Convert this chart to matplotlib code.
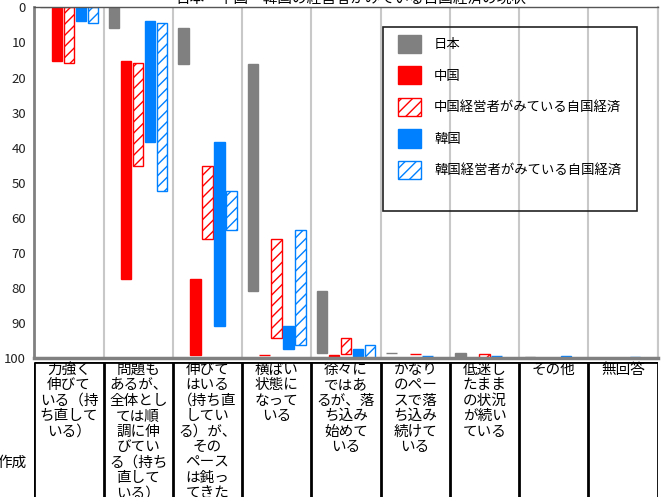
# -*- coding: utf-8 -*-
"""
Floating bar chart: how managers in Japan / China / Korea see their own economy
(cumulative share of answers, 0 at top -> 100 at bottom)
"""

#%% packages
import numpy as np
import matplotlib
matplotlib.use("Agg")
import matplotlib.pyplot as plt
from matplotlib.patches import Rectangle

plt.rcParams['font.family'] = ['Noto Sans CJK JP', 'DejaVu Sans']
plt.rcParams['hatch.linewidth'] = 1.0

# %% data (share of answers in %)
title = "日本・中国・韓国の経営者がみている自国経済の現状"

cat_lines = [
    ["力強く", "伸びて", "いる（持", "ち直して", "いる）"],
    ["問題も", "あるが、", "全体とし", "ては順", "調に伸", "びてい", "る（持ち", "直して", "いる）"],
    ["伸びて", "はいる", "（持ち直", "してい", "る）が、", "その", "ペース", "は鈍っ", "てきた"],
    ["横ばい", "状態に", "なって", "いる"],
    ["徐々に", "ではあ", "るが、落", "ち込み", "始めて", "いる"],
    ["かなり", "のペー", "スで落", "ち込み", "続けて", "いる"],
    ["低迷し", "たまま", "の状況", "が続い", "ている"],
    ["その他"],
    ["無回答"],
]

series_names = ["日本", "中国", "中国経営者がみている自国経済", "韓国", "韓国経営者がみている自国経済"]
japan = [0.0, 5.8, 10.3, 64.8, 17.5, 0.0, 1.2, 0.4, 0.0]
china = [15.2, 62.2, 21.8, 0.0, 0.8, 0.0, 0.0, 0.0, 0.0]
china_mgr = [16.0, 29.1, 21.0, 28.2, 4.4, 0.0, 1.1, 0.2, 0.0]
korea = [3.9, 34.4, 52.4, 6.7, 2.0, 0.0, 0.0, 0.2, 0.4]
korea_mgr = [4.4, 47.9, 11.1, 32.8, 3.8, 0.0, 0.0, 0.0, 0.0]

series_vals = [japan, china, china_mgr, korea, korea_mgr]

# styles
colors = ["#808080", "#FF0000", "#FF0000", "#0080FF", "#0080FF"]
hatched = [False, False, True, False, True]

# %% figure
W, H = 666, 497
fig = plt.figure(figsize=(W / 100, H / 100), dpi=100)

ax_l, ax_r, ax_t, ax_b = 34.3, 657.7, 7.3, 358.3
ax = fig.add_axes([ax_l / W, 1 - ax_b / H, (ax_r - ax_l) / W, (ax_b - ax_t) / H])

x = np.arange(len(cat_lines)) + 0.5
offsets = [-0.346, -0.173, 0.0, 0.173, 0.346]
bw = 0.152

for name, vals, col, hat, off in zip(series_names, series_vals, colors, hatched, offsets):
    vals = np.array(vals)
    start = np.cumsum(vals) - vals
    if hat:
        ax.bar(x + off, vals, bw, bottom=start, facecolor="white", edgecolor=col,
               hatch="///", linewidth=1.0, label=name)
    else:
        ax.bar(x + off, vals, bw, bottom=start, color=col, edgecolor=col,
               linewidth=1.0, label=name)

ax.set_xlim(0, len(cat_lines))
ax.set_ylim(100, 0)
ax.set_yticks(np.arange(0, 101, 10))
ax.tick_params(axis="y", length=0, pad=6, labelsize=9.5, labelcolor="#222222")
ax.set_xticks(np.arange(len(cat_lines) + 1))
ax.tick_params(axis="x", length=0, labelbottom=False)
ax.grid(axis="x", color="#C8C8C8", linewidth=1.5)
ax.set_axisbelow(True)

ax.spines["left"].set_color("#808080")
ax.spines["left"].set_linewidth(2)
ax.spines["bottom"].set_color("#808080")
ax.spines["bottom"].set_linewidth(2.5)
ax.spines["top"].set_color("#555555")
ax.spines["top"].set_linewidth(1)
ax.spines["right"].set_color("#C8C8C8")
ax.spines["right"].set_linewidth(1.5)

# legend (frame drawn separately so the padding matches)
leg = ax.legend(loc="upper left", bbox_to_anchor=(398 / W, 1 - 34.5 / H),
                bbox_transform=fig.transFigure, frameon=False, fontsize=9.6,
                handlelength=1.73, handleheight=1.73, labelspacing=1.0,
                handletextpad=0.98, borderpad=0, borderaxespad=0)
fig.patches.append(Rectangle((383.3 / W, 1 - 210.7 / H), 254 / W, 183.4 / H,
                             transform=fig.transFigure, fill=False,
                             edgecolor="#222222", linewidth=1.2))

# %% category table below the plot
tab_top = 361.7
tab = fig.add_axes([ax_l / W, -0.1, (ax_r - ax_l) / W, (H - tab_top) / H + 0.1])
tab.set_xlim(0, len(cat_lines))
tab.set_ylim(H + 0.1 * H, tab_top)
tab.axis("off")
tab.vlines(np.arange(len(cat_lines) + 1), tab_top, H + 0.1 * H, color="black", linewidth=2)
tab.hlines(tab_top, 0, len(cat_lines), color="black", linewidth=2)
for i, lines in enumerate(cat_lines):
    for j, line in enumerate(lines):
        tab.text(i + 0.5, 370 + 15.4 * j, line, ha="center", va="center", fontsize=10.5)

# cut-off texts at the edges
fig.text(27 / W, 1 - 463 / H, "作成", ha="right", va="center", fontsize=10.5)
fig.text(351 / W, 1 - 2.5 / H, title, ha="center", va="baseline", fontsize=10.5)

fig.savefig("out.png", dpi=100)
